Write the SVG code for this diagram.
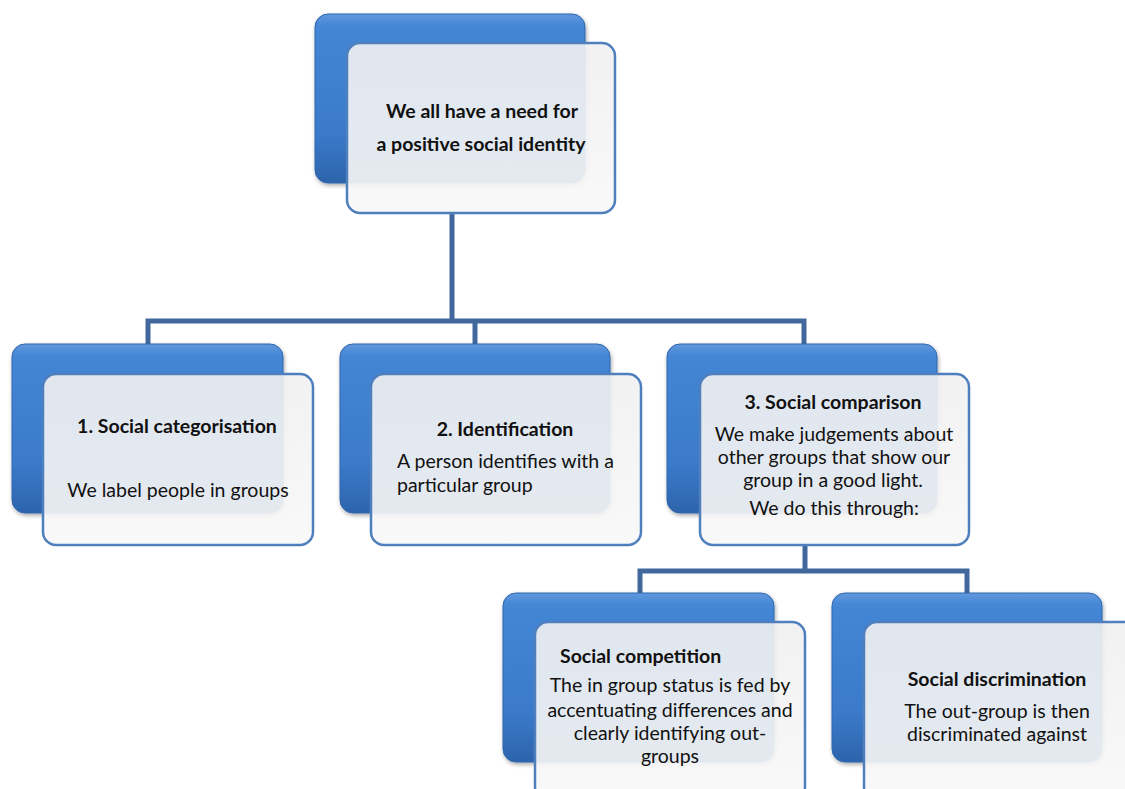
<svg xmlns="http://www.w3.org/2000/svg" width="1125" height="789" viewBox="0 0 1125 789">
<defs>
<linearGradient id="blue" x1="0" y1="0" x2="0" y2="1">
<stop offset="0" stop-color="#6199dd"/>
<stop offset="0.07" stop-color="#4486d5"/>
<stop offset="0.7" stop-color="#3b7acb"/>
<stop offset="1" stop-color="#2d64ab"/>
</linearGradient>
<linearGradient id="front" x1="0" y1="0" x2="0" y2="1">
<stop offset="0" stop-color="#f0f0f0"/>
<stop offset="1" stop-color="#f8f8f8"/>
</linearGradient>
<filter id="sh" x="-10%" y="-10%" width="120%" height="120%">
<feGaussianBlur in="SourceAlpha" stdDeviation="2"/>
<feOffset dx="1" dy="2"/>
<feComponentTransfer><feFuncA type="linear" slope="0.35"/></feComponentTransfer>
<feMerge><feMergeNode/><feMergeNode in="SourceGraphic"/></feMerge>
</filter>
</defs>
<style>
.back{fill:url(#blue);stroke:#2f66ad;stroke-width:1;filter:url(#sh)}
.front{fill:url(#front);fill-opacity:0.91;stroke:#4f7fbd;stroke-width:2.5}
.conn{fill:none;stroke:#41689c;stroke-width:5}
text{font-family:Lato,"Open Sans","Liberation Sans",sans-serif;font-size:19.5px;fill:#111;text-anchor:middle}
.b{font-weight:bold}
.l{text-anchor:start}
</style>
<rect width="1125" height="789" fill="#ffffff"/>
<g id="connectors">
<path class="conn" d="M452 213 V321 M148 345 V321 H804 V345 M475 321 V345"/>
<path class="conn" d="M805 545 V571 M640 596 V571 H967 V596"/>
</g>
<g id="node-root">
<rect class="back" x="315" y="14" width="270" height="169" rx="13"/>
<rect class="front" x="347" y="43" width="268" height="170" rx="13"/>
<text class="b" x="482" y="118">We all have a need for</text>
<text class="b" x="481" y="151">a positive social identity</text>
</g>
<g id="node-categorisation">
<rect class="back" x="12" y="344" width="271" height="169" rx="13"/>
<rect class="front" x="43" y="374" width="270" height="171" rx="13"/>
<text class="b" x="177" y="433">1. Social categorisation</text>
<text x="178" y="497">We label people in groups</text>
</g>
<g id="node-identification">
<rect class="back" x="340" y="344" width="270" height="169" rx="13"/>
<rect class="front" x="371" y="374" width="270" height="171" rx="13"/>
<text class="b" x="505" y="436">2. Identification</text>
<text class="l" x="397" y="468">A person identifies with a</text>
<text class="l" x="397" y="492">particular group</text>
</g>
<g id="node-comparison">
<rect class="back" x="667" y="344" width="270" height="169" rx="13"/>
<rect class="front" x="700" y="374" width="269" height="171" rx="13"/>
<text class="b" x="833" y="409">3. Social comparison</text>
<text x="834" y="441">We make judgements about</text>
<text x="834" y="464">other groups that show our</text>
<text x="833" y="487">group in a good light.</text>
<text x="834" y="515">We do this through:</text>
</g>
<g id="node-competition">
<rect class="back" x="503" y="593" width="271" height="169" rx="13"/>
<rect class="front" x="535" y="622" width="270" height="178" rx="13"/>
<text class="b l" x="560" y="663">Social competition</text>
<text x="670" y="692">The in group status is fed by</text>
<text x="670" y="717">accentuating differences and</text>
<text x="670" y="740">clearly identifying out-</text>
<text x="670" y="763">groups</text>
</g>
<g id="node-discrimination">
<rect class="back" x="832" y="593" width="270" height="169" rx="13"/>
<rect class="front" x="864" y="622" width="280" height="178" rx="13"/>
<text class="b" x="997" y="686">Social discrimination</text>
<text x="997" y="718">The out-group is then</text>
<text x="997" y="741">discriminated against</text>
</g>
</svg>
